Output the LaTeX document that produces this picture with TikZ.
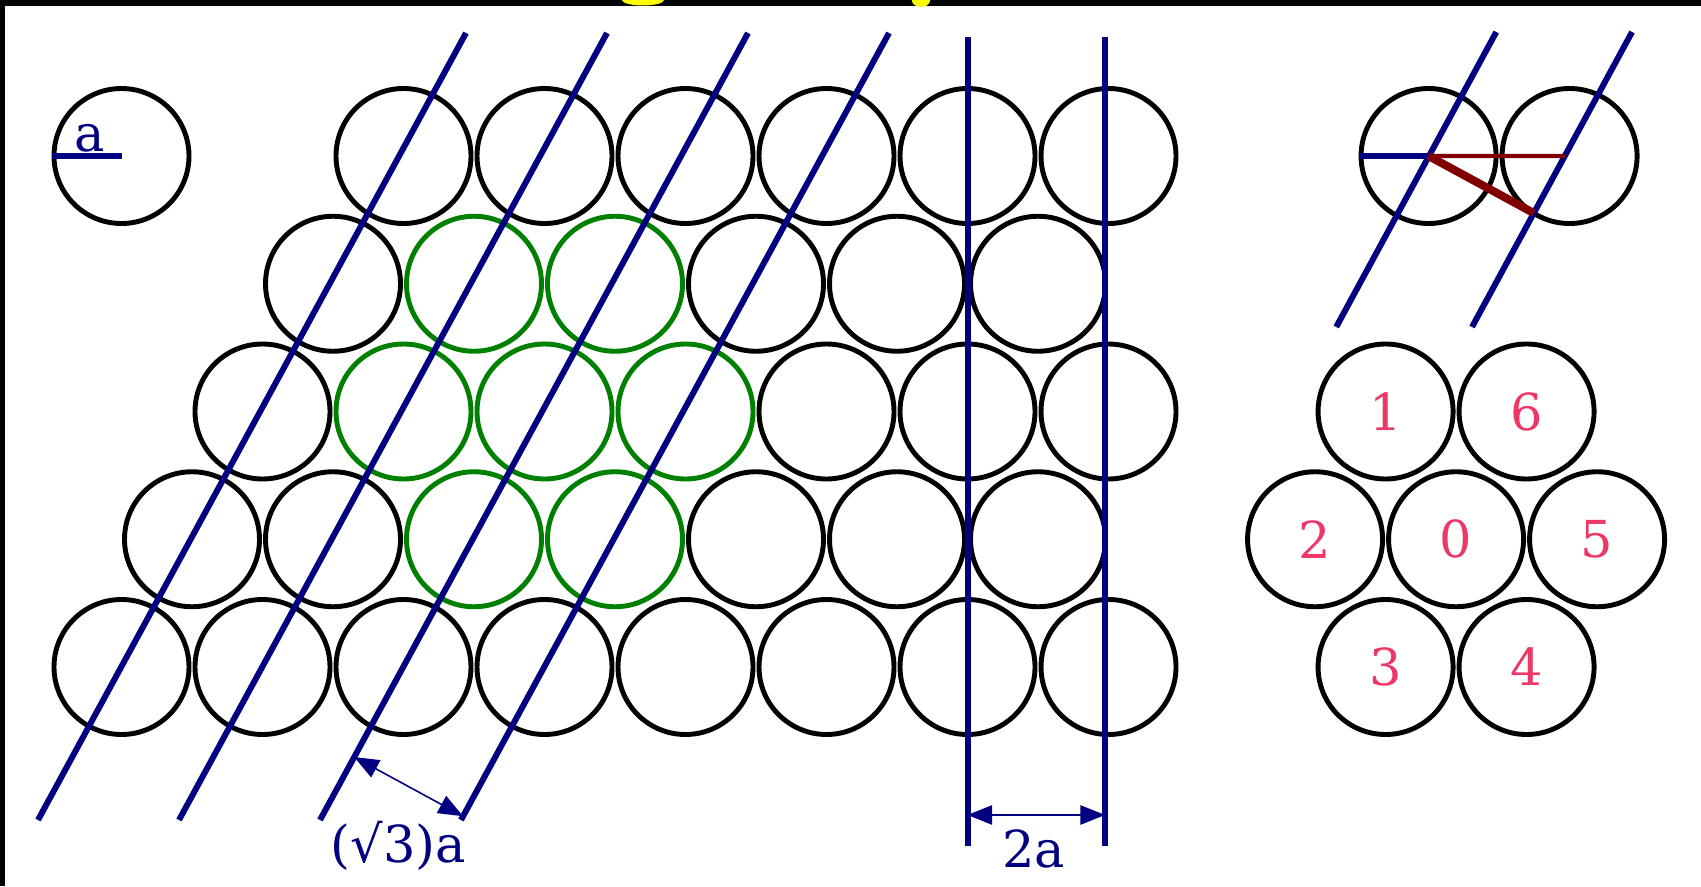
\documentclass[tikz,border=0pt]{standalone}
\usepackage{fontspec}
\setmainfont{DejaVu Serif}
\usepackage{tikz}
\usetikzlibrary{calc, arrows.meta}
\definecolor{latnavy}{RGB}{0,0,128}
\definecolor{latgreen}{RGB}{0,128,0}
\definecolor{latred}{RGB}{128,0,0}
\definecolor{numpink}{RGB}{237,56,103}
\definecolor{titleyellow}{RGB}{255,255,0}

\tikzset{
  atom/.style={circle, draw=#1, line width=1.4pt, minimum size=1.35cm, inner sep=0pt},
  atom/.default=black,
  lattline/.style={latnavy, line width=1.7pt},
  dimarrow/.style={latnavy, line width=0.45pt, {Triangle[length=7pt,width=5.5pt]}-{Triangle[length=7pt,width=5.5pt]}},
  dimlabel/.style={text=latnavy, font=\fontsize{14.5}{17}\selectfont, inner sep=0pt, anchor=base},
  numlabel/.style={text=numpink, font=\fontsize{14.5}{17}\selectfont},
}

\begin{document}
\begin{tikzpicture}[x=0.705cm, y=0.705cm]
  \useasboundingbox[fill=white] (-1.7234,-3.1064) rectangle (22.404,9.461);
  \fill (-1.7234,9.376) rectangle (22.404,9.461);
  \fill (-1.7234,-3.1064) rectangle (-1.6525,9.461);
  \fill[titleyellow] (7.397,9.461) ellipse (0.298 and 0.078);
  \fill[titleyellow] (11.34,9.461) ellipse (0.13 and 0.1);

  % one atom with its radius
  \node[atom] (ra) at (0,7.248) {};
  \draw[lattline] (ra.west) -- (ra.center);
  \node[dimlabel] (la) at (-0.447,7.305) {a};

  % the packed layer
  \foreach \i/\jmin/\jmax in {0/0/14, 1/1/13, 2/2/14, 3/3/13, 4/4/14} {
    \pgfmathtruncatemacro\jn{\jmin+2}
    \foreach \j in {\jmin,\jn,...,\jmax} {
      \pgfmathtruncatemacro\isgreen{(abs(\j-6)+abs(\i-2)<=2)&&(abs(\i-2)<=1)?1:0}
      \ifnum\isgreen=1 \def\col{latgreen}\else\def\col{black}\fi
      \node[atom=\col] (b-\j-\i) at (\j,1.812*\i) {};
    }
  }

  % slanted rows
  \foreach \k in {0,...,3} {
    \coordinate (sb\k) at (-1.1844+2*\k,-2.1702);
    \coordinate (st\k) at (4.8865+2*\k,8.9929);
    \draw[lattline] (sb\k) -- (st\k);
  }
  \coordinate (d1) at ($(sb2)!0.08!(st2)$);
  \coordinate (d2) at ($(sb3)!(d1)!(st3)$);
  \draw[dimarrow] (d1) -- (d2);
  \node[dimlabel] (lr3) at (3.929,-2.78) {(√3)a};

  % vertical rows
  \coordinate (vb1) at (12,-2.539);
  \coordinate (vt1) at (12,8.929);
  \coordinate (vb2) at (13.95,-2.539);
  \coordinate (vt2) at (13.95,8.929);
  \draw[lattline] (vb1) -- (vt1);
  \draw[lattline] (vb2) -- (vt2);
  \coordinate (wl) at (12,-2.099);
  \coordinate (wr) at (13.95,-2.099);
  \draw[dimarrow] (wl) -- (wr);
  \node[dimlabel] (l2a) at (12.94,-2.85) {2a};

  % two atoms and the row spacing
  \node[atom] (c1) at (18.54,7.248) {};
  \node[atom] (c2) at (20.54,7.248) {};
  \coordinate (mb1) at (17.23,4.823);
  \coordinate (mt1) at (19.50,9.007);
  \coordinate (mb2) at (19.156,4.823);
  \coordinate (mt2) at (21.426,9.007);
  \draw[lattline] (c1.west) -- (c1.center);
  \draw[lattline] (mb1) -- (mt1);
  \draw[lattline] (mb2) -- (mt2);
  \coordinate (e1) at (intersection of c1.center--c2.center and mb2--mt2);
  \coordinate (e2) at ($(mb2)!(c1.center)!(mt2)$);
  \draw[latred, line width=1.2pt] (c1.center) -- (e1);
  \draw[latred, line width=2.3pt] (c1.center) -- (e2);

  % neighbours
  \node[atom, numlabel] (h0) at (18.93,1.812) {0};
  \node[atom, numlabel] (h1) at (17.93,3.624) {1};
  \node[atom, numlabel] (h2) at (16.93,1.812) {2};
  \node[atom, numlabel] (h3) at (17.93,0) {3};
  \node[atom, numlabel] (h4) at (19.93,0) {4};
  \node[atom, numlabel] (h5) at (20.93,1.812) {5};
  \node[atom, numlabel] (h6) at (19.93,3.624) {6};
\end{tikzpicture}
\end{document}
